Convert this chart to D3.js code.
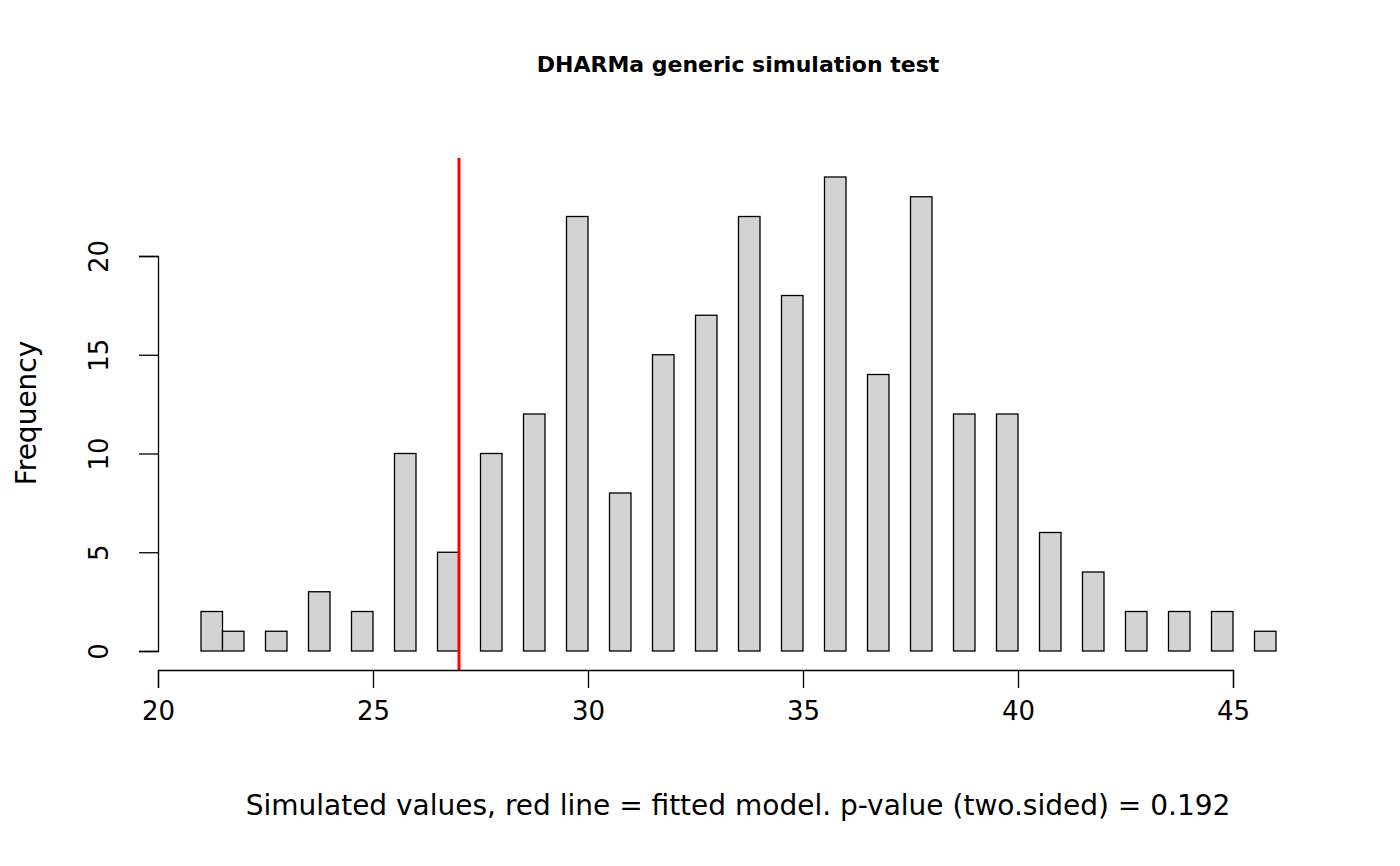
<!DOCTYPE html>
<html><head><meta charset="utf-8">
<script src="https://cdn.jsdelivr.net/npm/d3@7"></script>
<style>body{margin:0;background:#fff}text{font-family:"DejaVu Sans",sans-serif}</style>
</head><body><svg id="c" width="1400" height="866"></svg>
<script>
const binStarts=[21,21.5,22.5,23.5,24.5,25.5,26.5,27.5,28.5,29.5,30.5,31.5,32.5,33.5,34.5,35.5,36.5,37.5,38.5,39.5,40.5,41.5,42.5,43.5,44.5,45.5];
const counts=[2,1,1,3,2,10,5,10,12,22,8,15,17,22,18,24,14,23,12,12,6,4,2,2,2,1];
const binWidth=0.5;
const observed=27;
const xTicks=[20,25,30,35,40,45];
const yTicks=[0,5,10,15,20];
const svg=d3.select("#c");
const x=d3.scaleLinear().domain([20,45]).range([158,1233]);
const y=d3.scaleLinear().domain([0,20]).range([651,256]);
svg.selectAll("rect").data(binStarts).join("rect")
 .attr("x",d=>x(d)).attr("width",(d)=>x(d+binWidth)-x(d))
 .attr("y",(d,i)=>y(counts[i])).attr("height",(d,i)=>y(0)-y(counts[i]))
 .attr("fill","#d3d3d3").attr("stroke","#000").attr("stroke-width",1.3);
svg.append("line").attr("x1",x(observed)).attr("x2",x(observed)).attr("y1",y(24.96)).attr("y2",y(-0.96))
 .attr("stroke","red").attr("stroke-width",3);
const xa=svg.append("g").attr("transform","translate(0,670)").call(d3.axisBottom(x).tickValues(xTicks).tickSize(18).tickPadding(14));
xa.selectAll("text").attr("font-size",26).attr("fill","#000");
const ya=svg.append("g").attr("transform","translate(158,0)").call(d3.axisLeft(y).tickValues(yTicks).tickSize(19));
ya.selectAll("text").attr("font-size",26).attr("fill","#000").attr("text-anchor","middle")
 .attr("x",0).attr("y",0).attr("dy","0").attr("transform","translate(-50,0) rotate(-90)");
svg.selectAll(".domain,.tick line").attr("stroke","#000").attr("stroke-width",1.3);
svg.append("text").attr("x",738).attr("y",72).attr("text-anchor","middle").attr("font-size",22).attr("font-weight","bold").text("DHARMa generic simulation test");
svg.append("text").attr("x",738).attr("y",815).attr("text-anchor","middle").attr("font-size",28).text("Simulated values, red line = fitted model. p-value (two.sided) = 0.192");
svg.append("text").attr("transform","translate(36,413) rotate(-90)").attr("text-anchor","middle").attr("font-size",28).text("Frequency");
</script></body></html>
